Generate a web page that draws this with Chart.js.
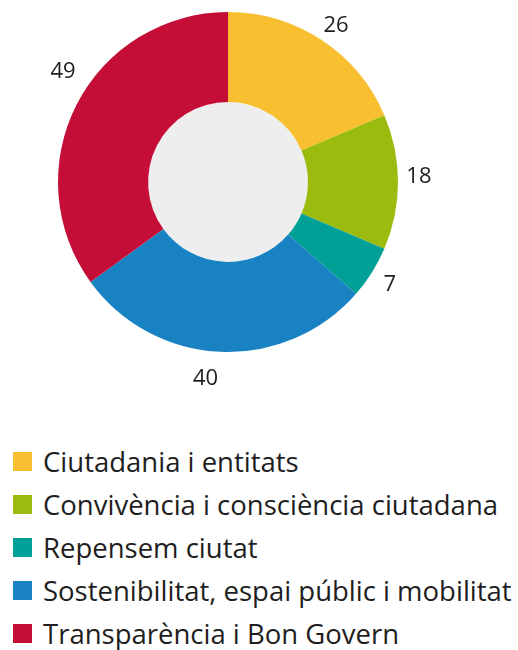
<!DOCTYPE html>
<html>
<head>
<meta charset="utf-8">
<script src="https://cdn.jsdelivr.net/npm/chart.js@4/dist/chart.umd.min.js"></script>
<style>
  html, body { margin: 0; padding: 0; background: #fff; }
  body { width: 518px; height: 650px; position: relative; overflow: hidden; font-family: "Open Sans", sans-serif; }
  #chartBox { position: absolute; left: 0; top: 0; width: 518px; height: 400px; }
  #legend { position: absolute; left: 13px; top: 440px; margin: 0; padding: 0; list-style: none; }
  #legend li { height: 43px; display: flex; align-items: center; font-size: 27.5px; color: #1e1e1e; white-space: nowrap; }
  #legend .box { width: 19px; height: 19px; margin-right: 11px; flex: none; }
</style>
</head>
<body>
<div id="chartBox"><canvas id="donut" width="518" height="400"></canvas></div>
<ul id="legend"></ul>
<script>
var labels = ['Ciutadania i entitats', 'Convivència i consciència ciutadana', 'Repensem ciutat', 'Sostenibilitat, espai públic i mobilitat', 'Transparència i Bon Govern'];
var values = [26, 18, 7, 40, 49];
var colors = ['#f8c030', '#9bbc0f', '#00a096', '#1882c3', '#c40d37'];

// gray disc in the hole + value labels outside each slice
var donutExtras = {
    id: 'donutExtras',
    beforeDatasetsDraw: function (chart) {
        var arc = chart.getDatasetMeta(0).data[0];
        var ctx = chart.ctx;
        ctx.save();
        ctx.fillStyle = '#eeeeee';
        ctx.beginPath();
        ctx.arc(arc.x, arc.y, arc.innerRadius, 0, Math.PI * 2);
        ctx.fill();
        ctx.restore();
    },
    afterDatasetsDraw: function (chart, args, opts) {
        var ctx = chart.ctx;
        var meta = chart.getDatasetMeta(0);
        ctx.save();
        ctx.font = '22px "Open Sans"';
        ctx.fillStyle = '#1e1e1e';
        ctx.textAlign = 'center';
        ctx.textBaseline = 'middle';
        meta.data.forEach(function (arc, i) {
            // small nudges so the labels sit like the original
            var mid = (arc.startAngle + arc.endAngle) / 2 + (opts.nudge[i] || 0) * Math.PI / 180;
            var r = arc.outerRadius + opts.gap + (opts.extra[i] || 0);
            ctx.fillText(values[i], arc.x + Math.cos(mid) * r, arc.y + Math.sin(mid) * r + 1);
        });
        ctx.restore();
    }
};

var ctx = document.getElementById('donut').getContext('2d');
var donutChart = new Chart(ctx, {
    type: 'doughnut',
    data: {
        labels: labels,
        datasets: [{
            data: values,
            backgroundColor: colors,
            borderWidth: 0
        }]
    },
    options: {
        responsive: false,
        animation: false,
        cutout: '47%',
        layout: { padding: { left: 58, right: 120, top: 12, bottom: 48 } },
        plugins: {
            legend: { display: false },
            tooltip: { enabled: false },
            donutExtras: { gap: 21, nudge: [1, -2, 0, 4, 7], extra: [0, 0, 0, 6, 8] }
        }
    },
    plugins: [donutExtras]
});

var legendEl = document.getElementById('legend');
labels.forEach(function (name, i) {
    var li = document.createElement('li');
    var box = document.createElement('span');
    box.className = 'box';
    box.style.background = colors[i];
    li.appendChild(box);
    li.appendChild(document.createTextNode(name));
    legendEl.appendChild(li);
});
</script>
</body>
</html>
